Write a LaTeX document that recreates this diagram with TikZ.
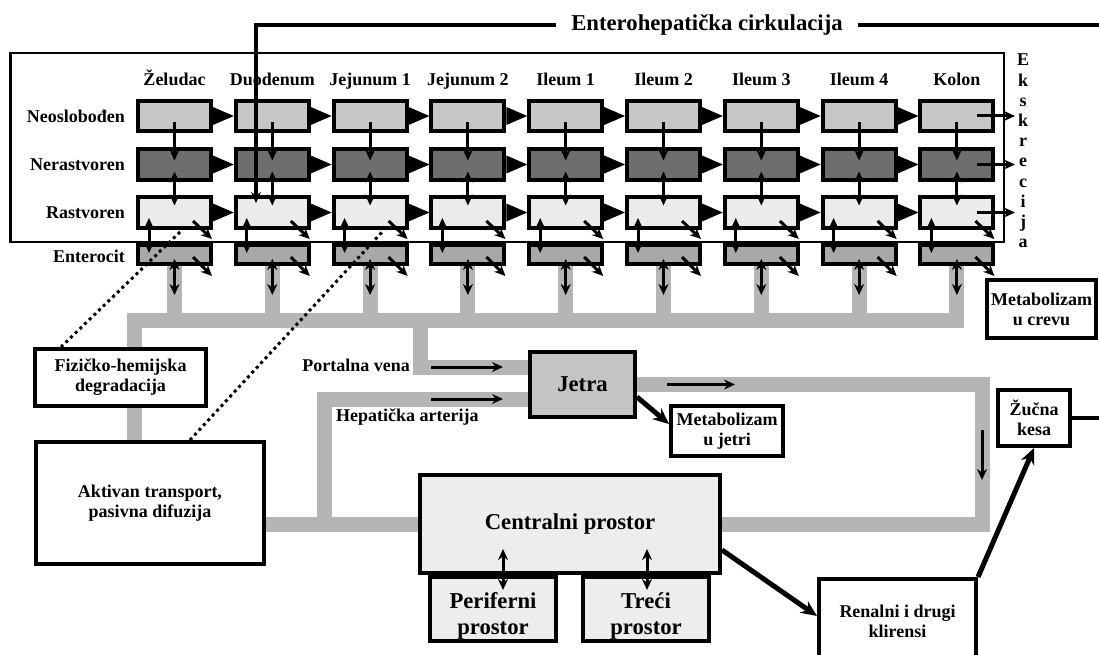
\documentclass[tikz,border=0pt]{standalone}
\usepackage{fontspec}
\setmainfont{Liberation Serif}
\usetikzlibrary{positioning, arrows.meta, calc, backgrounds}

\definecolor{neogray}{gray}{0.78}
\definecolor{nergray}{gray}{0.43}
\definecolor{rasgray}{gray}{0.92}
\definecolor{entgray}{gray}{0.66}
\definecolor{pipegray}{gray}{0.71}
\definecolor{jetragray}{gray}{0.77}
\definecolor{prostgray}{gray}{0.93}

\newcommand\smallbf{\bfseries\fontsize{18}{20}\selectfont}
\newcommand\bigbf{\bfseries\fontsize{22.7}{26}\selectfont}

\tikzset{
  comp/.style={
    rectangle,
    draw=black, line width=4pt,
    minimum width=73pt,
    minimum height=30pt,
    inner sep=0pt
  },
  neo/.style={comp, fill=neogray},
  ner/.style={comp, fill=nergray, minimum height=31pt},
  ras/.style={comp, fill=rasgray, minimum height=31pt},
  ent/.style={comp, fill=entgray, minimum height=19pt},
  organ/.style={
    rectangle,
    draw=black, line width=4pt,
    fill=white,
    align=center,
    inner sep=0pt,
    font=\smallbf
  },
  lbl/.style={font=\smallbf, inner sep=0pt},
  pipe/.style={draw=pipegray, line width=15pt},
  arrow/.style={
    draw=black,
    line width=3pt,
    -{Stealth[length=11pt,width=10pt]}
  },
  darrow/.style={arrow, {Stealth[length=11pt,width=10pt]}-{Stealth[length=11pt,width=10pt]}},
  bigarrow/.style={
    draw=black,
    line width=5pt,
    -{Stealth[length=16pt,width=14pt]}
  },
  dots/.style={line width=3pt, dash pattern=on 3pt off 3.5pt}
}

\begin{document}
\begin{tikzpicture}[x=1pt, y=-1pt]
\useasboundingbox (0,0) rectangle (1099,655);

% compartments
\foreach \i in {0,...,8}{
  \node[neo] (neo\i) at (174.5+97.8*\i, 116) {};
  \node[ner] (ner\i) at (174.5+97.8*\i, 164.5) {};
  \node[ras] (ras\i) at (174.5+97.8*\i, 212.5) {};
  \node[ent] (ent\i) at (174.5+97.8*\i, 254.5) {};
}

\foreach \name [count=\k from 0] in {Želudac, Duodenum, Jejunum 1, Jejunum 2, Ileum 1, Ileum 2, Ileum 3, Ileum 4, Kolon}
  \node[lbl, anchor=base] (col\k) at ([yshift=13pt]neo\k.north) {\name};

\node[lbl, anchor=east] (lneo) at ([xshift=-11pt]neo0.west) {Neoslobođen};
\node[lbl, anchor=east] (lner) at ([xshift=-11pt]ner0.west) {Nerastvoren};
\node[lbl, anchor=east] (lras) at ([xshift=-11pt]ras0.west) {Rastvoren};
\node[lbl, anchor=east] (lent) at ([xshift=-11pt, yshift=-2pt]ent0.west) {Enterocit};

% organs
\node[organ, minimum width=171pt, minimum height=57pt] (fiz) at (120.5,377.5) {Fizičko-hemijska\\degradacija};
\node[organ, minimum width=228pt, minimum height=122pt] (akt) at (150,503) {Aktivan transport,\\pasivna difuzija};
\node[organ, fill=jetragray, font=\bigbf, minimum width=105pt, minimum height=65pt] (jetra) at (582.5,384.5) {Jetra};
\node[organ, minimum width=112pt, minimum height=50pt] (metj) at (727,431) {Metabolizam\\u jetri};
\node[organ, fill=prostgray, minimum width=126pt, minimum height=64pt] (peri) at (493,609) {};
\node[organ, fill=prostgray, minimum width=126pt, minimum height=64pt] (treci) at (646,609) {};
\node[lbl, font=\bigbf, align=center] (tperi) at ($(peri.center)+(0,7)$) {Periferni\\prostor};
\node[lbl, font=\bigbf, align=center] (ttreci) at ($(treci.center)+(0,7)$) {Treći\\prostor};
\node[organ, fill=prostgray, font=\bigbf, minimum width=300pt, minimum height=98pt] (cent) at (570,524) {Centralni prostor};
\node[organ, minimum width=157pt, minimum height=84pt] (renal) at (897.5,621) {Renalni i drugi\\klirensi};
\node[organ, minimum width=109pt, minimum height=58pt] (metc) at (1041.5,309) {Metabolizam\\u crevu};
\node[organ, minimum width=72pt, minimum height=56pt] (zuc) at (1034,418) {Žučna\\kesa};

\node[lbl, anchor=east] (lpv) at (410,365) {Portalna vena};
\node[lbl, anchor=west] (lha) at (336,417) {Hepatička arterija};

\foreach \c [count=\k from 0] in {E,k,s,k,r,e,c,i,j,a}
  \node[lbl, anchor=base] (eks\k) at (1023, 66+20.2*\k) {\c};

% frame and blood vessels
\coordinate (bus) at (0,320);
\coordinate (pv) at (420.5,320);
\coordinate (ha) at (324.5,0);
\coordinate (loop) at (982,0);
\begin{scope}[on background layer]
\draw[line width=2.5pt] (10.5,53) rectangle (1004,242);
\draw[pipe] ([xshift=100pt]akt.north west) |- (ent8.south |- bus) -- (ent8.south);
\foreach \i in {0,...,7}
  \draw[pipe] (ent\i.south) -- (ent\i.south |- bus);
\draw[pipe] (pv) |- ([yshift=17.5pt]jetra.west);
\draw[pipe] (akt.east |- cent) -- (cent.west);
\draw[pipe] (ha |- cent) |- ([yshift=-14.5pt]jetra.west);
\draw[pipe] (jetra.east) -| (loop |- cent) -- (cent.east);
\end{scope}

% edges

%% transit
\foreach \i in {0,...,7}{
  \pgfmathtruncatemacro\j{\i+1}
  \foreach \r in {neo,ner,ras}
    \fill ([yshift=9pt]\r\i.east) -- ([yshift=-9pt]\r\i.east) -- (\r\j.west) -- cycle;
}

%% exchange in each segment
\foreach \i in {0,...,8}{
  \draw[arrow] ($(neo\i.center)+(0,6)$) -- ($(ner\i.center)+(0,-4)$);
  \draw[darrow] ($(ner\i.center)+(0,7)$) -- ($(ras\i.center)+(0,-7)$);
  \draw[darrow] ($(ras\i.center)+(-25.5,5.5)$) -- ($(ent\i.center)+(-25.5,-1.5)$);
  \draw[arrow] ($(ras\i.center)+(18.5,8.5)$) -- ++(19,18);
  \draw[arrow] ($(ent\i.center)+(18.5,2.5)$) -- ++(19,19);
  \draw[darrow] ($(ent\i.center)+(0,4.5)$) -- ($(ent\i.center)+(0,40.5)$);
}

%% excretion
\foreach \r in {neo,ner,ras}
  \draw[arrow] ($(\r8.center)+(20,0)$) -- ++(38,0);

%% vessels
\draw[arrow] ([xshift=-97pt, yshift=17.5pt]jetra.west) -- ++(72,0);
\draw[arrow] ([xshift=-97pt, yshift=-14.5pt]jetra.west) -- ++(72,0);
\draw[arrow] ([xshift=30pt]jetra.east) -- ++(68,0);
\draw[arrow] ($(loop)+(0,430)$) -- ++(0,50);

%% liver, central compartment, clearance
\draw[bigarrow] ([yshift=22pt]jetra.south east) -- ([yshift=7pt]metj.west);
\draw[darrow] ($(cent.south -| peri)+(10,-26)$) -- ($(peri.center)+(10,-19)$);
\draw[darrow] ($(cent.south -| treci)+(1,-26)$) -- ($(treci.center)+(1,-19)$);
\draw[bigarrow] ([yshift=-26pt]cent.east) -- ([yshift=5pt]renal.west);
\draw[bigarrow] (renal.north east) -- (zuc.south);

%% degradation, transport
\draw[dots] ($(fiz.north west)+(28,0)$) -- ($(ras0.south)+(5.5,2)$);
\draw[dots] ($(akt.north west)+(156,0)$) -- ($(ras2.south)+(12,2)$);

%% enterohepatic circulation
\coordinate (eh) at (1104,25);
\draw[line width=4.5pt, -{Stealth[length=11pt,width=10pt]}] (zuc.east) -| (eh) -| ([xshift=-16.3pt, yshift=9.5pt]ras1.center);
\node[lbl, font=\bigbf, fill=white, inner xsep=15pt, inner ysep=4pt] (ehc) at (707,25) {Enterohepatička cirkulacija};

\end{tikzpicture}
\end{document}
